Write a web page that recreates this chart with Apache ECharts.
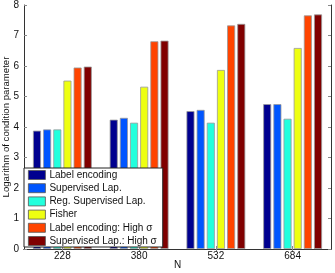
<!DOCTYPE html>
<html><head><meta charset="utf-8">
<script src="https://cdn.jsdelivr.net/npm/echarts@6/dist/echarts.min.js"></script>
<style>html,body{margin:0;padding:0;background:#fff}#c{width:335px;height:273px}</style>
</head><body><div id="c"></div>
<script>
const categories = ['228', '380', '532', '684'];
const seriesNames = ['Label encoding', 'Supervised Lap.', 'Reg. Supervised Lap.', 'Fisher', 'Label encoding: High σ', 'Supervised Lap.: High σ'];
const labelEncoding = [3.88, 4.24, 4.52, 4.75];
const supervisedLap = [3.92, 4.30, 4.56, 4.75];
const regSupervisedLap = [3.92, 4.14, 4.14, 4.27];
const fisher = [5.52, 5.32, 5.87, 6.59];
const labelEncodingHigh = [5.95, 6.81, 7.33, 7.66];
const supervisedLapHigh = [5.98, 6.83, 7.38, 7.69];
const yTicks = [0, 1, 2, 3, 4, 5, 6, 7, 8];
const colors = ['#00008f', '#0055ff', '#22ffdd', '#eeff11', '#ff4400', '#800000'];

const values = [labelEncoding, supervisedLap, regSupervisedLap, fisher, labelEncodingHigh, supervisedLapHigh];
const font = 'Liberation Sans, Arial, sans-serif';
const chart = echarts.init(document.getElementById('c'), null, {renderer: 'canvas'});
const axisLine = {show: true, lineStyle: {color: '#333', width: 1}};
chart.setOption({
  animation: false,
  grid: {left: 24, right: 4, top: 5, bottom: 24, containLabel: false, outerBoundsMode: 'none'},
  legend: {
    orient: 'vertical', left: 24, top: 168, z: 10,
    data: seriesNames,
    itemWidth: 17, itemHeight: 9, itemGap: 3.2,
    padding: [2, 6, 1, 4],
    backgroundColor: '#fff', borderColor: '#222', borderWidth: 1,
    textStyle: {fontFamily: font, fontSize: 10, lineHeight: 10, height: 10, color: '#111', padding: [0, 0, 0, -1]},
    itemStyle: {borderWidth: 0.8, borderColor: '#555'},
    icon: 'rect'
  },
  xAxis: [{
    type: 'category', data: categories, position: 'bottom',
    axisLine: axisLine,
    axisTick: {show: true, inside: true, alignWithLabel: true, length: 3, lineStyle: {color: '#888'}},
    axisLabel: {fontFamily: font, fontSize: 10, color: '#111', margin: 2},
    name: 'N', nameLocation: 'middle', nameGap: 11, nameMoveOverlap: false,
    nameTextStyle: {fontFamily: font, fontSize: 10, color: '#111'}
  }, {
    type: 'category', data: categories, position: 'top',
    axisLine: axisLine,
    axisTick: {show: true, inside: true, alignWithLabel: true, length: 3, lineStyle: {color: '#888'}},
    axisLabel: {show: false}
  }],
  yAxis: [{
    type: 'value', min: 0, max: 8, interval: 1, position: 'left',
    axisLine: axisLine,
    axisTick: {show: true, inside: true, length: 3, lineStyle: {color: '#888'}},
    splitLine: {show: false},
    axisLabel: {fontFamily: font, fontSize: 10, color: '#111', margin: 5,
      formatter: v => yTicks.includes(v) ? String(v) : ''},
    name: 'Logarithm of condition parameter', nameLocation: 'middle', nameGap: 13, nameMoveOverlap: false,
    nameTextStyle: {fontFamily: font, fontSize: 9.6, color: '#111'}
  }, {
    type: 'value', min: 0, max: 8, interval: 1, position: 'right',
    axisLine: axisLine,
    axisTick: {show: true, inside: true, length: 3, lineStyle: {color: '#888'}},
    splitLine: {show: false},
    axisLabel: {show: false}
  }],
  series: seriesNames.map((n, i) => ({
    name: n, type: 'bar', data: values[i],
    xAxisIndex: 0, yAxisIndex: 0,
    barWidth: 8, barGap: '27%', barCategoryGap: '23%',
    itemStyle: {color: colors[i], borderColor: '#999', borderWidth: 0.8}
  }))
});
</script></body></html>
